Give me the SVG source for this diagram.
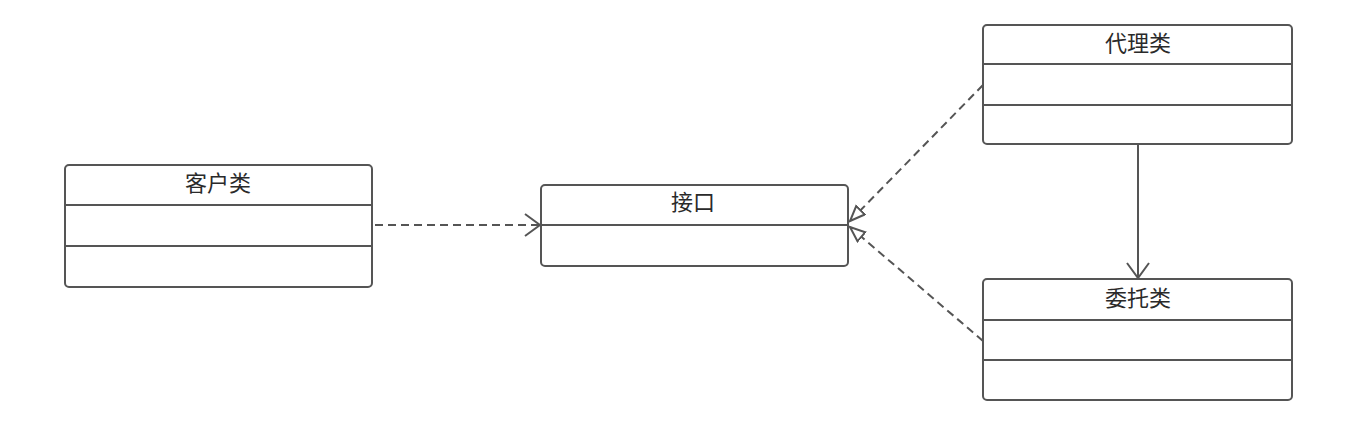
<svg xmlns="http://www.w3.org/2000/svg" width="1366" height="426" viewBox="0 0 1366 426">
<style>
.box{fill:#fff;stroke:#555;stroke-width:2}
.div{stroke:#555;stroke-width:2}
.lbl{font-family:"Noto Sans CJK SC","Liberation Sans",sans-serif;font-size:22px;fill:#2a2a2a;text-anchor:middle}
.dash{fill:none;stroke:#555;stroke-width:2;stroke-dasharray:8,5}
.solid{fill:none;stroke:#555;stroke-width:2}
</style>
<defs>
<marker id="open" markerWidth="20" markerHeight="28" refX="16" refY="12" orient="auto" markerUnits="userSpaceOnUse">
<path d="M1,1 L16,12 L1,23" fill="none" stroke="#555" stroke-width="2"/>
</marker>
<marker id="tri" markerWidth="20" markerHeight="16" refX="16" refY="7" orient="auto" markerUnits="userSpaceOnUse">
<path d="M1,1 L16,7 L1,13 Z" fill="#fff" stroke="#555" stroke-width="2"/>
</marker>
</defs>
<rect width="1366" height="426" fill="#fff"/>
<g id="connectors">
<line class="dash" x1="375" y1="225" x2="540" y2="225" marker-end="url(#open)"/>
<line class="dash" x1="983" y1="85" x2="850" y2="221" marker-end="url(#tri)"/>
<line class="dash" x1="983" y1="341" x2="850" y2="227" marker-end="url(#tri)"/>
<line class="solid" x1="1138" y1="145" x2="1138" y2="278" marker-end="url(#open)"/>
</g>
<g id="client">
<rect class="box" x="65" y="165" width="307" height="122" rx="4"/>
<line class="div" x1="65" y1="205" x2="372" y2="205"/>
<line class="div" x1="65" y1="246" x2="372" y2="246"/>
<text class="lbl" x="218" y="191">客户类</text>
</g>
<g id="interface">
<rect class="box" x="541" y="185" width="307" height="81" rx="4"/>
<line class="div" x1="541" y1="225" x2="848" y2="225"/>
<text class="lbl" x="693" y="210">接口</text>
</g>
<g id="proxy">
<rect class="box" x="983" y="25" width="309" height="119" rx="4"/>
<line class="div" x1="983" y1="64" x2="1292" y2="64"/>
<line class="div" x1="983" y1="105" x2="1292" y2="105"/>
<text class="lbl" x="1138" y="51">代理类</text>
</g>
<g id="delegate">
<rect class="box" x="983" y="279" width="309" height="121" rx="4"/>
<line class="div" x1="983" y1="320" x2="1292" y2="320"/>
<line class="div" x1="983" y1="360" x2="1292" y2="360"/>
<text class="lbl" x="1138" y="306">委托类</text>
</g>
</svg>
